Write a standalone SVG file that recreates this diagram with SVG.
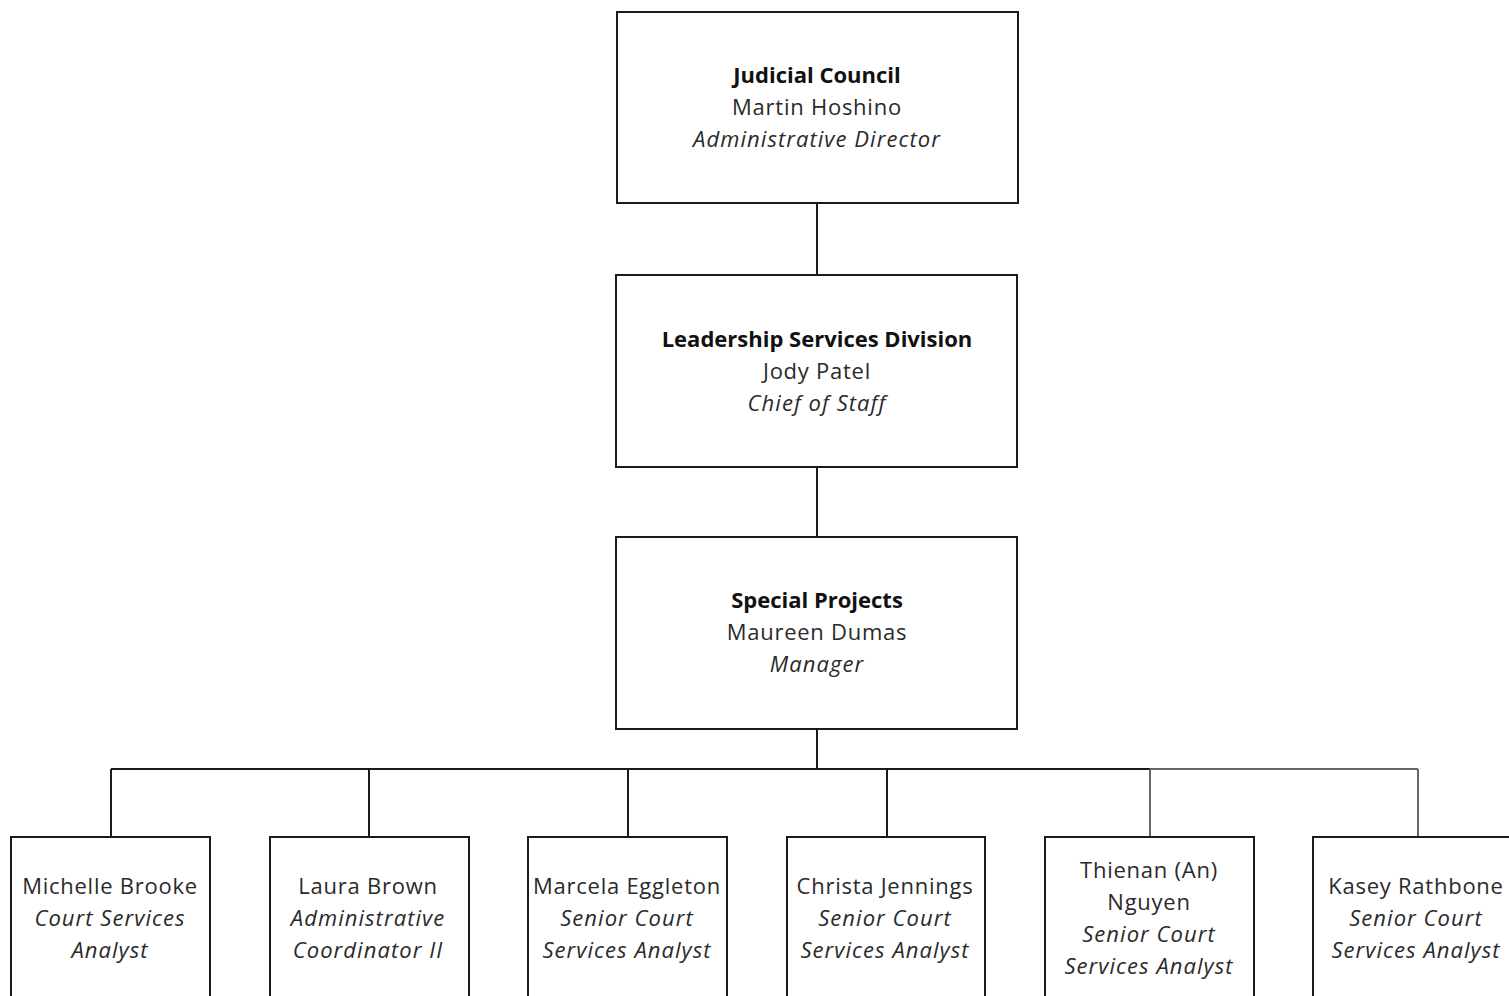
<svg xmlns="http://www.w3.org/2000/svg" width="1509" height="996" viewBox="0 0 1509 996">
<style>
.box{fill:#fff;stroke:#1a1a1a;stroke-width:2}
.ln{stroke:#1a1a1a;stroke-width:2;fill:none}
.lg{stroke:#666;stroke-width:2;fill:none}
text{font-family:"Open Sans",Lato,"Noto Sans",sans-serif;font-size:22px;fill:#2a2a2a;text-anchor:middle;letter-spacing:0.75px}
.b{font-weight:bold;fill:#111;letter-spacing:0px}
.i{font-style:italic;letter-spacing:1.05px}
</style>
<rect width="1509" height="996" fill="#fff"/>
<g id="connectors">
<line class="ln" x1="817" y1="203" x2="817" y2="275"/>
<line class="ln" x1="817" y1="467" x2="817" y2="537"/>
<line class="ln" x1="817" y1="729" x2="817" y2="769"/>
<line class="ln" x1="111" y1="769" x2="1150" y2="769"/>
<line class="lg" x1="1150" y1="769" x2="1418" y2="769"/>
<line class="ln" x1="111" y1="769" x2="111" y2="837"/>
<line class="ln" x1="369" y1="769" x2="369" y2="837"/>
<line class="ln" x1="628" y1="769" x2="628" y2="837"/>
<line class="ln" x1="887" y1="769" x2="887" y2="837"/>
<line class="lg" x1="1150" y1="769" x2="1150" y2="837"/>
<line class="lg" x1="1418" y1="769" x2="1418" y2="837"/>
</g>
<g id="judicial-council">
<rect class="box" x="617" y="12" width="401" height="191"/>
<text x="817" y="83" class="b">Judicial Council</text>
<text x="817" y="115">Martin Hoshino</text>
<text x="817" y="147" class="i">Administrative Director</text>
</g>
<g id="leadership-services">
<rect class="box" x="616" y="275" width="401" height="192"/>
<text x="817" y="347" class="b">Leadership Services Division</text>
<text x="817" y="379">Jody Patel</text>
<text x="817" y="411" class="i">Chief of Staff</text>
</g>
<g id="special-projects">
<rect class="box" x="616" y="537" width="401" height="192"/>
<text x="817" y="608" class="b">Special Projects</text>
<text x="817" y="640">Maureen Dumas</text>
<text x="817" y="672" class="i">Manager</text>
</g>
<g id="michelle-brooke">
<rect class="box" x="11" y="837" width="199" height="170"/>
<text x="110" y="894">Michelle Brooke</text>
<text x="110" y="926" class="i">Court Services</text>
<text x="110" y="958" class="i">Analyst</text>
</g>
<g id="laura-brown">
<rect class="box" x="270" y="837" width="199" height="170"/>
<text x="368" y="894">Laura Brown</text>
<text x="368" y="926" class="i">Administrative</text>
<text x="368" y="958" class="i">Coordinator II</text>
</g>
<g id="marcela-eggleton">
<rect class="box" x="528" y="837" width="199" height="170"/>
<text x="627" y="894">Marcela Eggleton</text>
<text x="627" y="926" class="i">Senior Court</text>
<text x="627" y="958" class="i">Services Analyst</text>
</g>
<g id="christa-jennings">
<rect class="box" x="787" y="837" width="198" height="170"/>
<text x="885" y="894">Christa Jennings</text>
<text x="885" y="926" class="i">Senior Court</text>
<text x="885" y="958" class="i">Services Analyst</text>
</g>
<g id="thienan-nguyen">
<rect class="box" x="1045" y="837" width="209" height="170"/>
<text x="1149" y="878">Thienan (An)</text>
<text x="1149" y="910">Nguyen</text>
<text x="1149" y="942" class="i">Senior Court</text>
<text x="1149" y="974" class="i">Services Analyst</text>
</g>
<g id="kasey-rathbone">
<rect class="box" x="1313" y="837" width="210" height="170"/>
<text x="1416" y="894">Kasey Rathbone</text>
<text x="1416" y="926" class="i">Senior Court</text>
<text x="1416" y="958" class="i">Services Analyst</text>
</g>
</svg>
